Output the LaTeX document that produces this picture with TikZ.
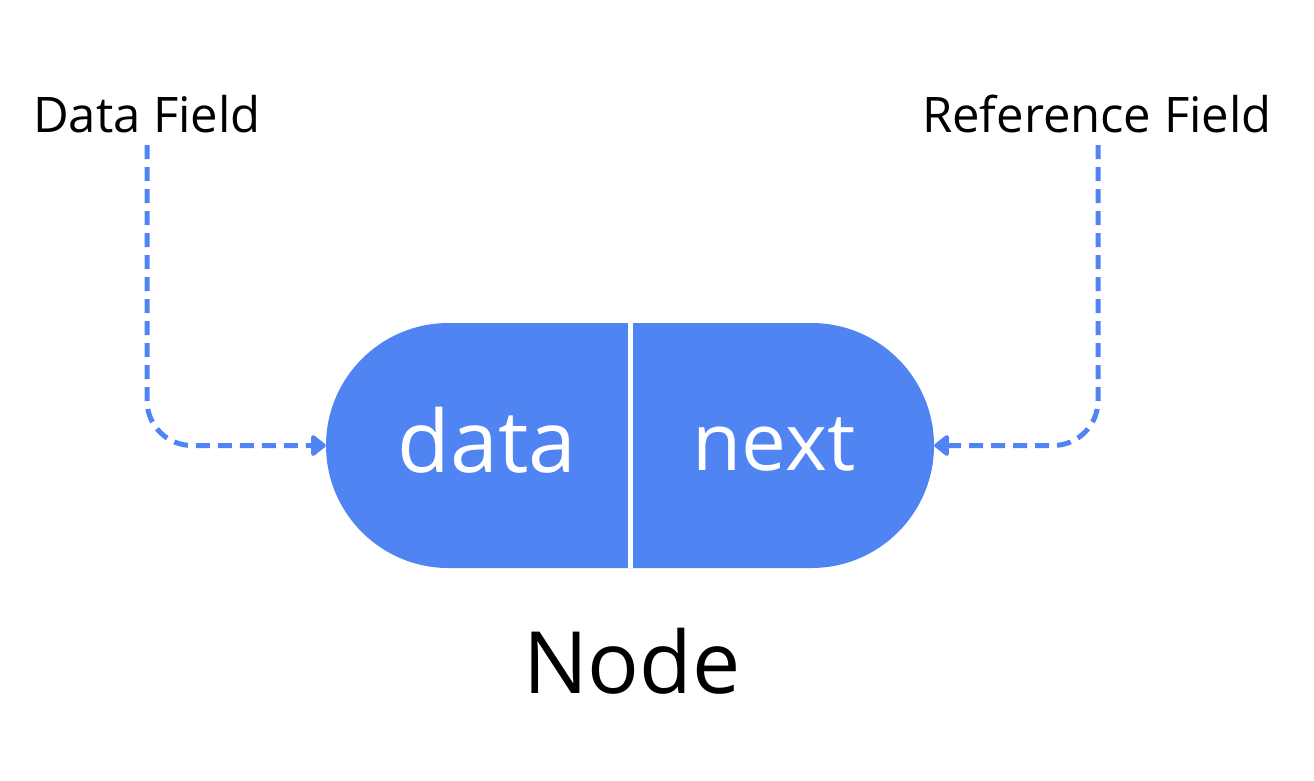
\documentclass[tikz,border=0pt]{standalone}
\usepackage{fontspec}
\setmainfont{Open Sans}
\usetikzlibrary{arrows.meta,shapes.misc}
\definecolor{cellblue}{RGB}{80,132,242}
\tikzset{
  cellbox/.style={rounded rectangle, fill=cellblue, draw=none, minimum width=608pt, minimum height=245pt, inner sep=0pt},
  celltext/.style={text=white, font=\fontsize{86}{90}\selectfont, inner sep=0pt},
  fieldlbl/.style={font=\fontsize{49}{52}\selectfont, inner sep=0pt, anchor=base},
  pointer/.style={cellblue, line width=5pt, dash pattern=on 14pt off 8pt, rounded corners=45pt, -{Triangle[round, length=16pt, width=24pt]}}
}
\begin{document}
\begin{tikzpicture}[x=1pt,y=-1pt]
			\useasboundingbox (0,0) rectangle (1314,780);
			\node[cellbox] (cell) at (630,445.5) {};
			\draw[white, line width=5pt] (cell.north) -- (cell.south);
			\node[celltext, anchor=base] (data) at (487,472) {data};
			\node[celltext, anchor=base, font=\fontsize{80}{90}\selectfont] (next) at (774,470) {next};
			\node[font=\fontsize{86}{90}\selectfont, inner sep=0pt, anchor=base] (nodelbl) at (632,693) {Node};
			%
			\node[fieldlbl] (datalbl) at (147,132) {Data Field};
			\node[fieldlbl] (reflbl)  at (1097,132) {Reference Field};
			\coordinate (datatop) at (147,145);
			\coordinate (reftop)  at (1098,145);
			\draw[pointer] (datatop) |- (cell.west);
			\draw[pointer] (reftop) |- (cell.east);
		\end{tikzpicture}
\end{document}
